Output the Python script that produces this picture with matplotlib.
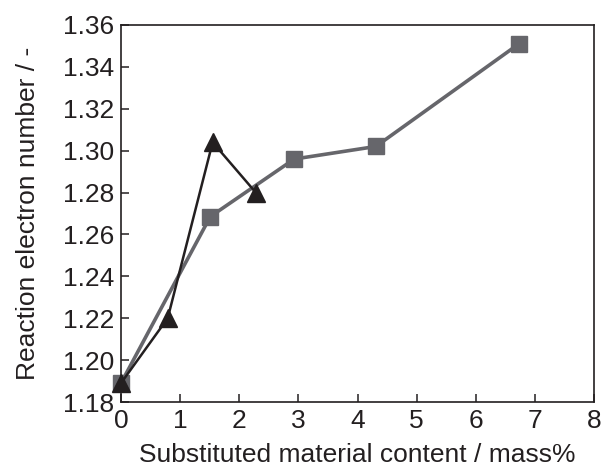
import matplotlib
matplotlib.use("Agg")
import matplotlib.pyplot as plt

plt.rcParams['font.family'] = ['Liberation Sans', 'DejaVu Sans']

sq_x = [0.0, 1.51, 2.93, 4.31, 6.73]
sq_y = [1.189, 1.2685, 1.296, 1.302, 1.351]
tri_x = [0.0, 0.79, 1.55, 2.28]
tri_y = [1.189, 1.220, 1.304, 1.280]

xticks = [0, 1, 2, 3, 4, 5, 6, 7, 8]
yticks = [1.18, 1.20, 1.22, 1.24, 1.26, 1.28, 1.30, 1.32, 1.34, 1.36]

dark = '#231f20'
gray = '#66666b'

fig = plt.figure(figsize=(6.09, 4.69), dpi=100)
ax = fig.add_axes([121/609, 1 - 402/469, (594-121)/609, (402-25)/469])

ax.plot(sq_x, sq_y, color=gray, lw=2.6, marker='s', ms=11.3, mfc=gray, mec=gray, zorder=2, clip_on=False)
ax.plot(tri_x, tri_y, color=dark, lw=1.8, marker='^', ms=13.5, mfc=dark, mec=dark, zorder=3, clip_on=False)

ax.set_xlim(0, 8)
ax.set_ylim(1.18, 1.36)
ax.set_xticks(xticks)
ax.set_yticks(yticks)
ax.set_xticklabels([str(t) for t in xticks])
ax.set_yticklabels([f"{t:.2f}" for t in yticks])

for s in ax.spines.values():
    s.set_color(dark)
    s.set_linewidth(1.2)

ax.tick_params(direction='in', length=6, width=1.1, color=dark, labelcolor=dark,
               labelsize=19, top=False, right=False)
ax.tick_params(axis='x', pad=5)
ax.tick_params(axis='y', pad=5)

ax.set_xlabel('Substituted material content / mass%', fontsize=19, color=dark, labelpad=7)
ax.set_ylabel('Reaction electron number / -', fontsize=19, color=dark, labelpad=16)

fig.savefig('out.png', dpi=100)
